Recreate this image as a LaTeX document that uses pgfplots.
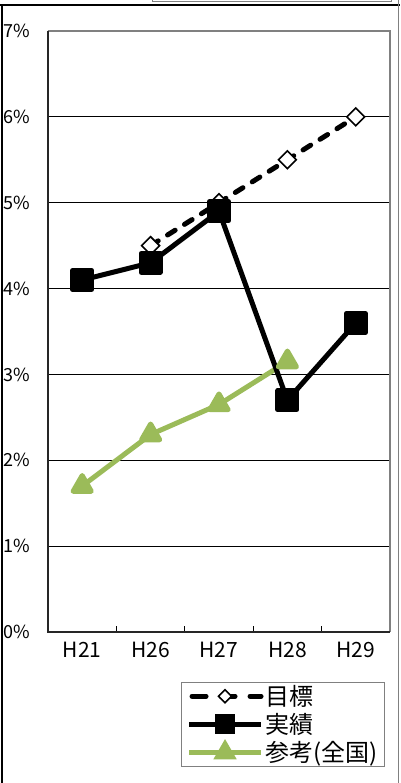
\documentclass[border=0pt]{standalone}
\usepackage{pgfplots}
\pgfplotsset{compat=1.18}
\usepackage{fontspec}
\setmainfont{Noto Sans CJK JP}
\definecolor{refgreen}{RGB}{155,187,89}
\definecolor{framegray}{RGB}{128,128,128}

\begin{document}
\begin{tikzpicture}[x=1pt,y=1pt]
\begin{axis}[
  name=ax,
  scale only axis, width=342pt, height=601pt,
  xmin=-0.5, xmax=4.5, ymin=0, ymax=7,
  xtick={0,1,2,3,4},
  xticklabels={H21,H26,H27,H28,H29},
  major x tick style={draw=none},
  minor xtick={0.5,1.5,2.5,3.5},
  minor tick length=6pt,
  major tick length=5pt,
  xtick pos=left, ytick pos=left,
  tick align=inside,
  ytick={0,1,2,3,4,5,6,7},
  /pgf/number format/assume math mode=true,
  yticklabel={\pgfmathprintnumber{\tick}\%},
  tick style={black, line width=1.2pt},
  ymajorgrids,
  grid style={black, line width=0.9pt},
  axis line style={draw=none},
  xticklabel style={font=\fontsize{21}{23}\selectfont, anchor=north, yshift=-7pt},
  yticklabel style={font=\fontsize{18}{20}\selectfont, anchor=east, xshift=-14pt},
  clip=false,
  legend cell align=left,
  legend style={
    at={(rel axis cs:0.389,-0.083)}, anchor=north west,
    draw=framegray, line width=1pt,
    font=\fontsize{24}{26}\selectfont,
    inner xsep=5pt, inner ysep=1pt,
    row sep=2.5pt,
    nodes={inner sep=2pt},
  },
  legend image code/.code={
    \draw[mark repeat=2, mark phase=2, #1]
      plot coordinates {(0pt,0pt) (36pt,0pt) (72pt,0pt)};
  },
]
\coordinate (SW) at (rel axis cs:0,0);
% legend entries in display order (legend markers are drawn smaller)
\addlegendimage{black, line width=5pt, dash pattern=on 14pt off 15pt, dash phase=-3pt, line cap=round,
  mark=square*, mark size=4.6pt,
  mark options={solid, rotate=45, fill=white, draw=black, line width=1.6pt}}
\addlegendentry{目標}
\addlegendimage{black, line width=5pt,
  mark=square*, mark size=7.5pt, mark options={solid, fill=black}}
\addlegendentry{実績}
\addlegendimage{refgreen, line width=5pt,
  mark=triangle*, mark size=8.5pt, mark options={solid, fill=refgreen, draw=refgreen}}
\addlegendentry{参考(全国)}

% 参考(全国)
\addplot[forget plot, refgreen, line width=5pt, line join=round,
  mark=triangle*, mark size=10.5pt, mark options={solid, fill=refgreen, draw=refgreen}]
  coordinates {(0,1.70) (1,2.30) (2,2.65) (3,3.15)};
% 目標
\addplot[forget plot, black, line width=5pt, dash pattern=on 9pt off 11pt, line cap=round,
  mark=square*, mark size=6.3pt,
  mark options={solid, rotate=45, fill=white, draw=black, line width=1.6pt}]
  coordinates {(1,4.5) (2,5.0) (3,5.5) (4,6.0)};
% 実績
\addplot[forget plot, black, line width=5pt, line join=round,
  mark=square*, mark size=9.5pt, mark options={solid, fill=black}]
  coordinates {(0,4.1) (1,4.3) (2,4.9) (3,2.7) (4,3.6)};

% plot area frame
\draw[framegray, line width=2pt] (rel axis cs:0,1) -- (rel axis cs:1,1) -- (rel axis cs:1,0);
\draw[black!85, line width=2pt] (rel axis cs:0,1) -- (rel axis cs:0,0) -- (rel axis cs:1,0);
\end{axis}

% page extent and surrounding sheet lines, measured from the plot's lower-left corner
\pgfresetboundingbox
\begin{scope}[shift={(SW)}]
\useasboundingbox (-48,-151) rectangle (352,632);
\draw[black, line width=1.3pt] (-48,627) -- (352,627);
\draw[black, line width=1.3pt] (-46,627) -- (-46,-151);
\draw[framegray, line width=1.3pt] (350.5,632) -- (350.5,-151);
\draw[framegray, line width=1pt] (104.5,632) -- (104.5,630.5) -- (343.5,630.5) -- (343.5,632);
\end{scope}
\end{tikzpicture}
\end{document}
